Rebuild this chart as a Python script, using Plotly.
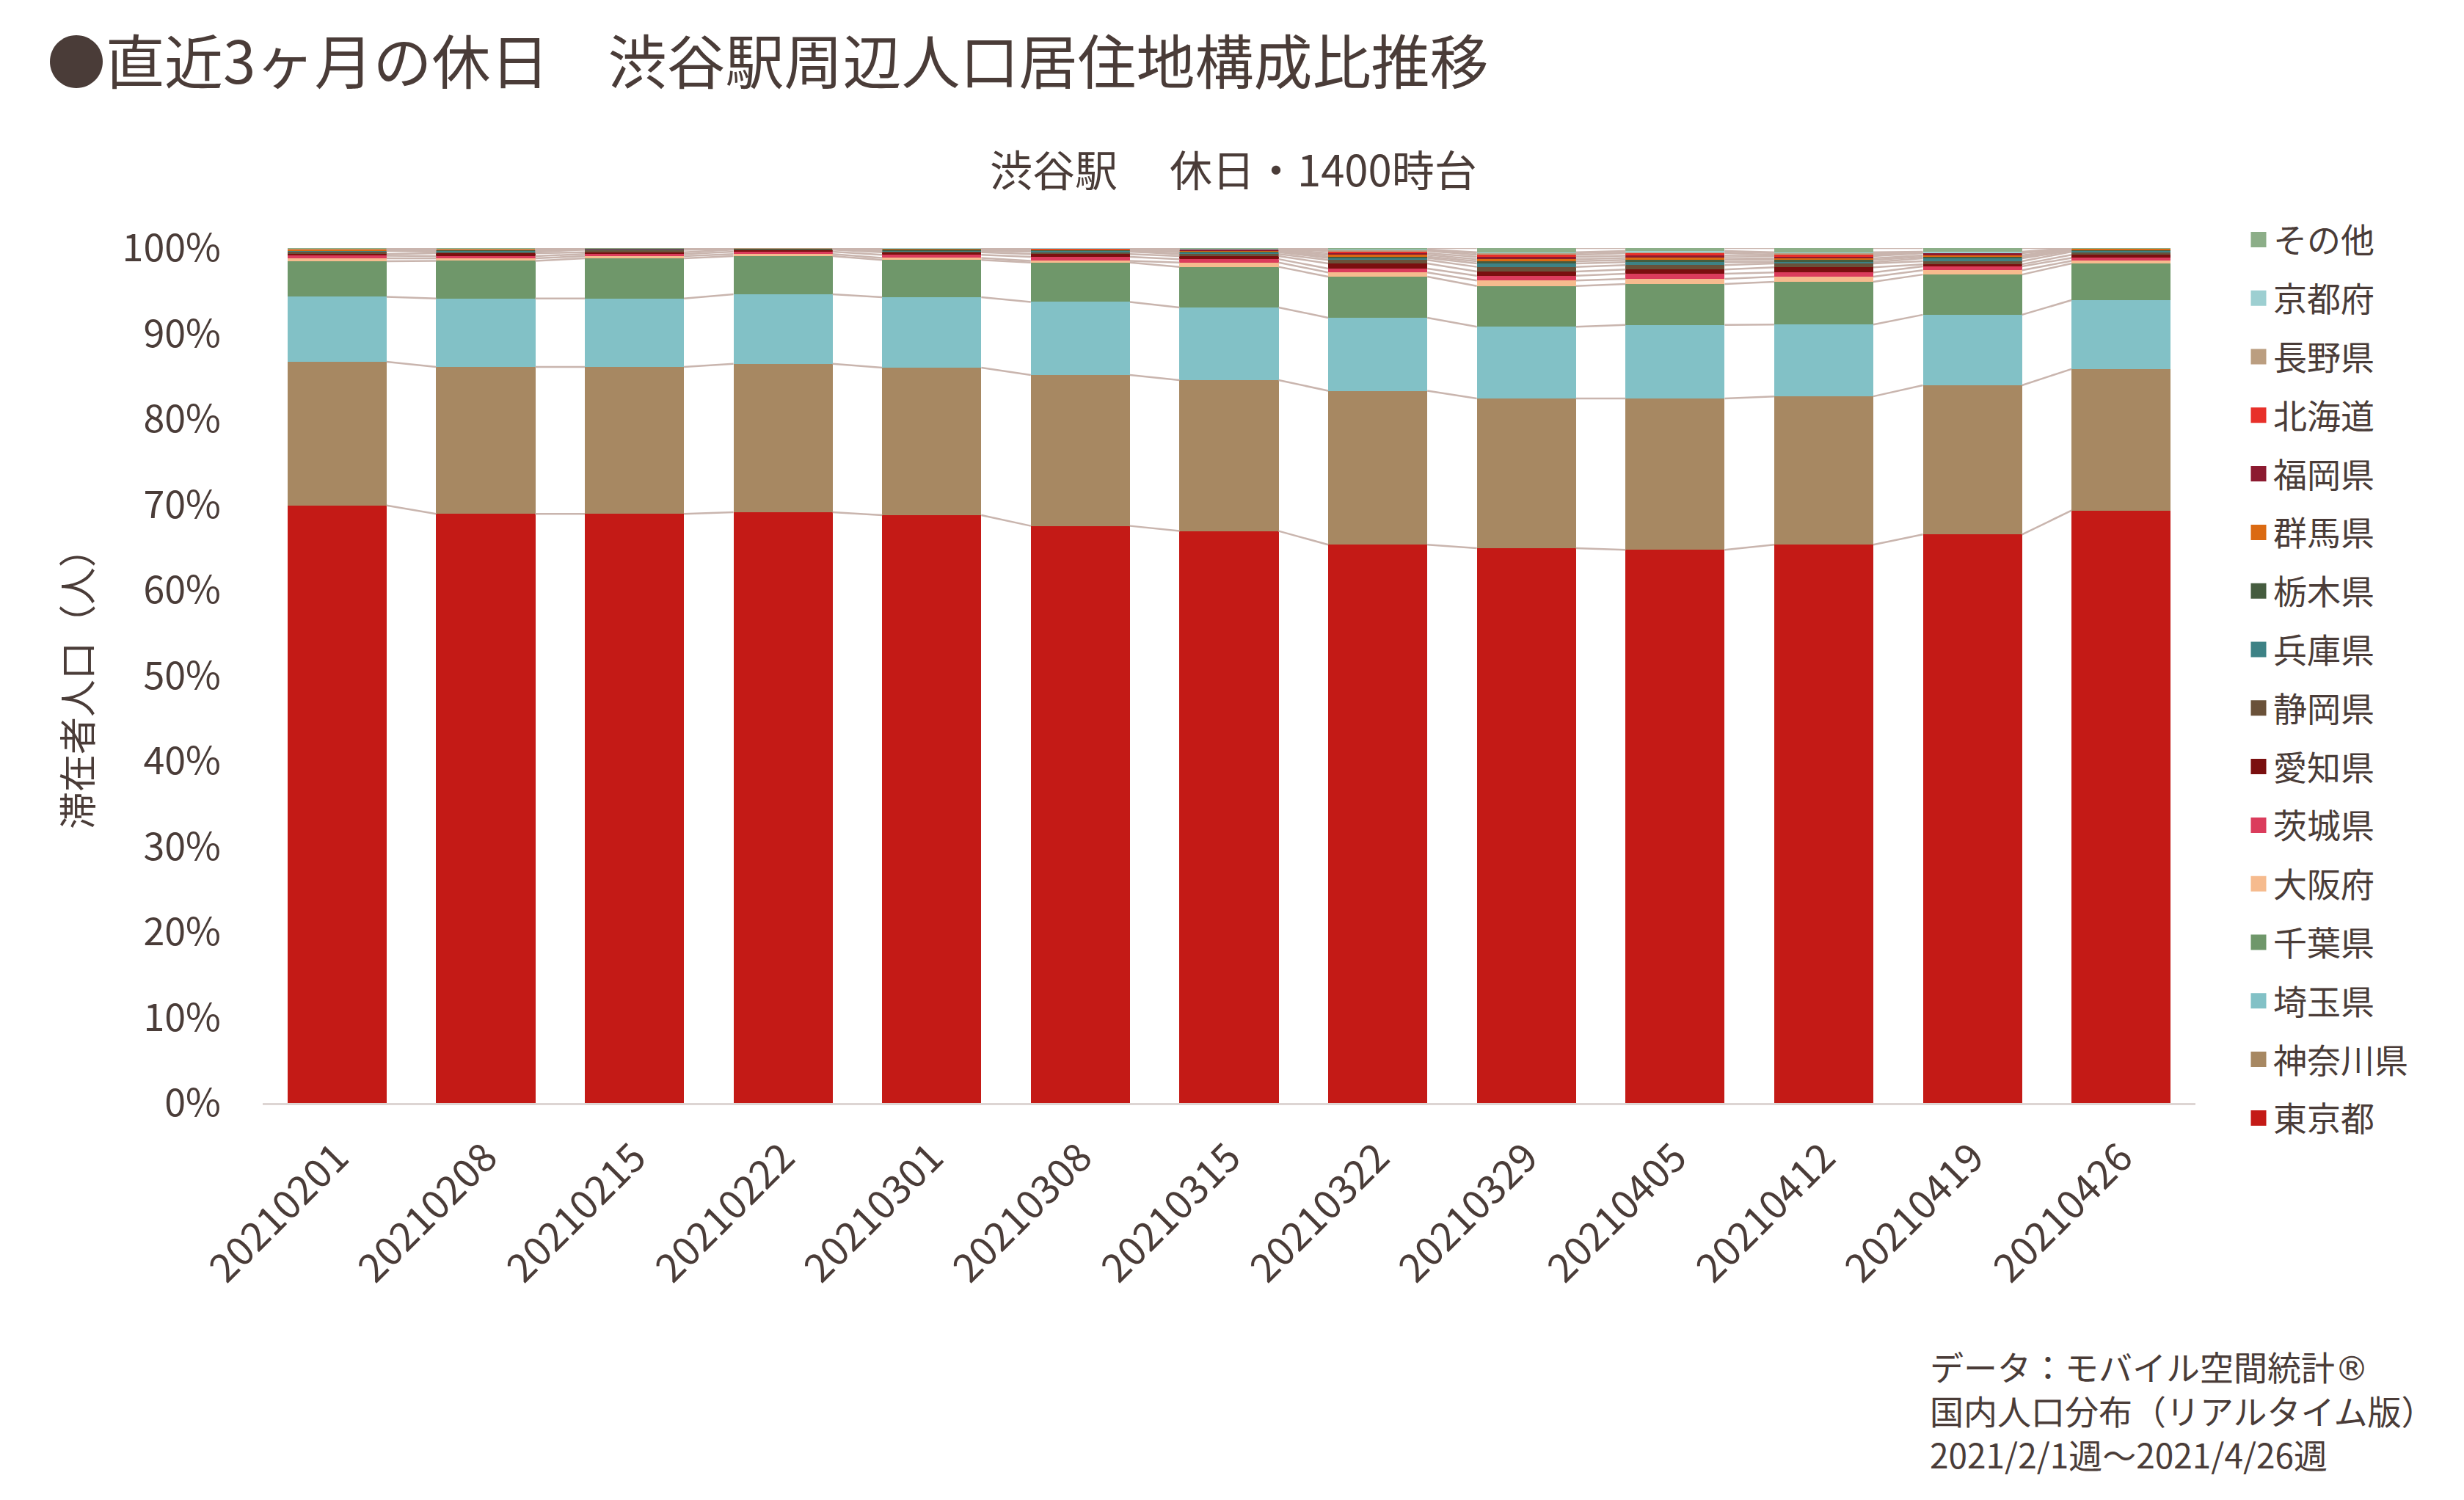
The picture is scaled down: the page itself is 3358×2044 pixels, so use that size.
import numpy as np
import plotly.graph_objects as go

weeks = ["20210201", "20210208", "20210215", "20210222", "20210301", "20210308", "20210315",
         "20210322", "20210329", "20210405", "20210412", "20210419", "20210426"]

prefectures = ["東京都", "神奈川県", "埼玉県", "千葉県", "大阪府", "茨城県", "愛知県", "静岡県",
               "兵庫県", "栃木県", "群馬県", "福岡県", "北海道", "長野県", "京都府", "その他"]

colors = ["#c41a16", "#a78862", "#82c1c6", "#6f976a", "#f6bb8e", "#db3c5c", "#7a0f0f", "#6a5139",
          "#3d8285", "#455c3f", "#db6a12", "#8c1a30", "#e8302a", "#bb9e80", "#9dcfd1", "#8cae88"]

# composition ratio (%) per week
tokyo    = [69.9, 68.9, 68.9, 69.1, 68.75, 67.5, 66.9, 65.3, 64.9, 64.7, 65.3, 66.5, 69.3]
kanagawa = [16.8, 17.2, 17.2, 17.35, 17.25, 17.65, 17.65, 18.0, 17.5, 17.7, 17.35, 17.45, 16.55]
saitama  = [7.6, 8.0, 8.0, 8.15, 8.25, 8.55, 8.5, 8.55, 8.4, 8.6, 8.4, 8.25, 8.05]
chiba    = [4.15, 4.4, 4.7, 4.45, 4.35, 4.6, 4.75, 4.8, 4.75, 4.8, 5.0, 4.7, 4.3]
osaka    = [0.35, 0.3, 0.25, 0.25, 0.25, 0.2, 0.5, 0.5, 0.65, 0.6, 0.6, 0.5, 0.3]
ibaraki  = [0.3, 0.25, 0.25, 0.27, 0.35, 0.47, 0.4, 0.45, 0.55, 0.6, 0.5, 0.45, 0.35]
aichi    = [0.2, 0.35, 0.2, 0.23, 0.3, 0.33, 0.35, 0.6, 0.5, 0.5, 0.6, 0.25, 0.35]
shizuoka = [0.35, 0.17, 0.3, 0.07, 0.15, 0.27, 0.25, 0.4, 0.55, 0.5, 0.45, 0.35, 0.37]
hyogo    = [0.03, 0.13, 0.03, 0.02, 0.07, 0.11, 0.2, 0.25, 0.4, 0.35, 0.15, 0.35, 0.13]
tochigi  = [0.04, 0.1, 0.03, 0.05, 0.13, 0.09, 0.12, 0.15, 0.25, 0.25, 0.25, 0.17, 0.1]
gunma    = [0.13, 0.05, 0.02, 0.02, 0.1, 0.11, 0.1, 0.2, 0.25, 0.25, 0.2, 0.17, 0.15]
fukuoka  = [0.03, 0.03, 0.08, 0.02, 0.02, 0.02, 0.13, 0.2, 0.27, 0.25, 0.25, 0.26, 0.02]
hokkaido = [0.02, 0.02, 0.01, 0.01, 0.01, 0.08, 0.03, 0.25, 0.23, 0.3, 0.15, 0.04, 0.01]
nagano   = [0.03, 0.03, 0.01, 0.01, 0.01, 0.01, 0.02, 0.15, 0.2, 0.17, 0.2, 0.04, 0.01]
kyoto    = [0.02, 0.02, 0.01, 0.0, 0.01, 0.01, 0.07, 0.03, 0.1, 0.08, 0.1, 0.09, 0.0]
other    = [0.05, 0.05, 0.01, 0.0, 0.0, 0.0, 0.03, 0.17, 0.5, 0.35, 0.5, 0.43, 0.01]

series = [tokyo, kanagawa, saitama, chiba, osaka, ibaraki, aichi, shizuoka,
          hyogo, tochigi, gunma, fukuoka, hokkaido, nagano, kyoto, other]

TEXT = "#4a3c38"
FONT = "Noto Sans CJK JP"
BAR_W = 0.667
xpos = list(range(len(weeks)))

fig = go.Figure()

for name, vals, col in zip(prefectures, series, colors):
    fig.add_trace(go.Bar(x=xpos, y=vals, name=name, width=BAR_W, legendgroup=name,
                         showlegend=False, marker=dict(color=col, line=dict(width=0))))

# Excel-style series lines between bars
cum = np.cumsum(np.array(series), axis=0)
lx, ly = [], []
for k in range(cum.shape[0]):
    for i in range(len(weeks) - 1):
        lx += [i + BAR_W / 2, i + 1 - BAR_W / 2, None]
        ly += [cum[k][i], cum[k][i + 1], None]
fig.add_trace(go.Scatter(x=lx, y=ly, mode="lines", line=dict(color="#c9b5ae", width=2.5),
                         showlegend=False, hoverinfo="skip"))

# legend entries (top: その他 ... bottom: 東京都)
for name, col in reversed(list(zip(prefectures, colors))):
    fig.add_trace(go.Scatter(x=[None], y=[None], mode="markers", name=name, legendgroup=name,
                             marker=dict(symbol="square", size=16, color=col,
                                         line=dict(color=col, width=5))))

L, R, T, B = 358, 366, 338, 541
W, H = 3358, 2044
PW, PH = W - L - R, H - T - B

def px_x(px):
    return (px - L) / PW

def px_y(py):
    return (H - B - py) / PH

source_text = ("データ：モバイル空間統計<span style=\"font-family:'DejaVu Sans'\">®</span><br>"
               "国内人口分布（リアルタイム版）<br>"
               "2021/2/1週～2021/4/26週")

fig.update_layout(
    width=W, height=H,
    margin=dict(l=L, r=R, t=T, b=B, autoexpand=False),
    paper_bgcolor="white", plot_bgcolor="white",
    barmode="stack", bargap=0,
    font=dict(family=FONT, color=TEXT, size=46),
    showlegend=True,
    legend=dict(x=px_x(3058), y=px_y(290), xanchor="left", yanchor="top",
                font=dict(size=46, color=TEXT, family=FONT),
                traceorder="grouped", tracegroupgap=17, maxheight=1,
                bgcolor="rgba(0,0,0,0)", borderwidth=0),
    xaxis=dict(range=[-0.5, len(weeks) - 0.5], tickmode="array", tickvals=xpos, ticktext=weeks,
               tickangle=-45, showgrid=False, zeroline=False, showline=True,
               linecolor="#ddd5d3", linewidth=3, ticks="",
               tickfont=dict(size=54, color=TEXT, family=FONT), ticklabelstandoff=18),
    yaxis=dict(range=[0, 100], tickmode="array", tickvals=list(range(0, 101, 10)),
               ticktext=[f"{v}%" for v in range(0, 101, 10)],
               showgrid=False, zeroline=False, showline=False, ticks="",
               tickfont=dict(size=52, color=TEXT, family=FONT), ticklabelstandoff=56),
    annotations=[
        dict(text="●直近3ヶ月の休日　渋谷駅周辺人口居住地構成比推移", xref="paper", yref="paper",
             x=px_x(62), y=px_y(79), xanchor="left", yanchor="middle", showarrow=False,
             font=dict(size=80, color=TEXT, family=FONT)),
        dict(text="渋谷駅　 休日・1400時台", xref="paper", yref="paper",
             x=px_x(1681), y=px_y(229), xanchor="center", yanchor="middle", showarrow=False,
             font=dict(size=58, color=TEXT, family=FONT)),
        dict(text="滞在者人口（人）", xref="paper", yref="paper", textangle=-90,
             x=px_x(103), y=px_y(926), xanchor="center", yanchor="middle", showarrow=False,
             font=dict(size=51, color=TEXT, family=FONT)),
        dict(text=source_text,
             xref="paper", yref="paper", x=px_x(2628), y=px_y(1921), xanchor="left",
             yanchor="middle", align="left", showarrow=False,
             font=dict(size=46, color=TEXT, family=FONT)),
    ],
)

fig.write_html("out.html")
